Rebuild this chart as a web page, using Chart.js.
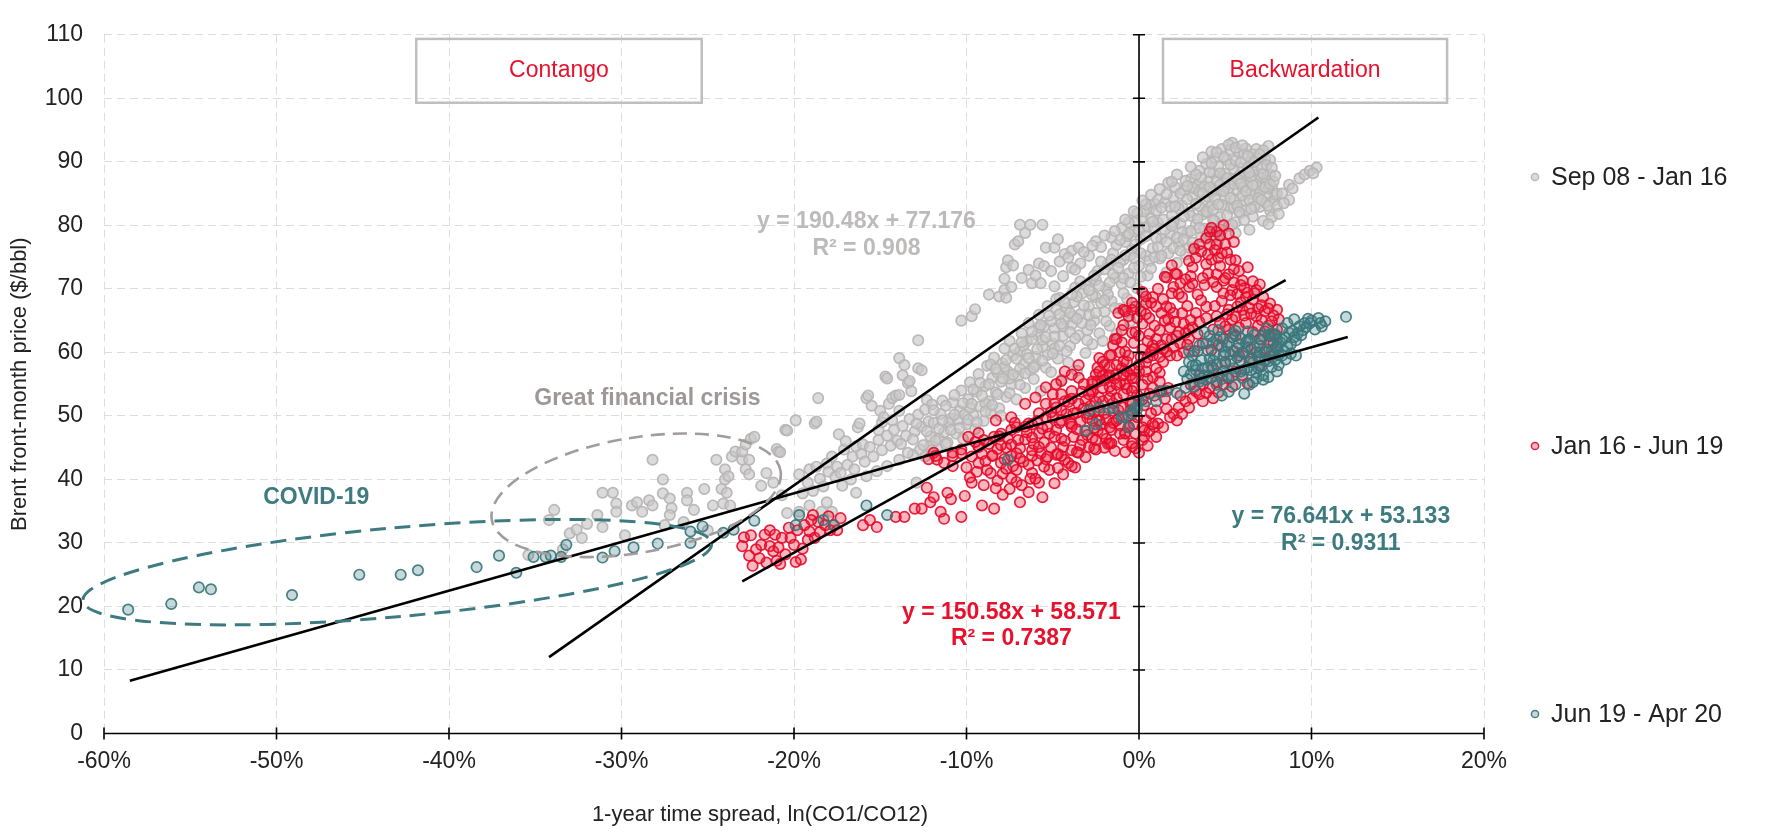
<!DOCTYPE html>
<html>
<head>
<meta charset="utf-8">
<title>Brent price vs 1-year time spread</title>
<script src="https://cdn.jsdelivr.net/npm/chart.js@4.4.1/dist/chart.umd.min.js"></script>
<style>
  html, body { margin: 0; padding: 0; background: #fff; }
  #wrap { width: 1769px; height: 834px; }
</style>
</head>
<body>
<div id="wrap"><canvas id="chart" width="1769" height="834"></canvas></div>
<script>
// ---- Data -------------------------------------------------------------
const seriesLabels = ['Sep 08 - Jan 16', 'Jan 16 - Jun 19', 'Jun 19 - Apr 20'];
const xTickValues = [-60, -50, -40, -30, -20, -10, 0, 10, 20];
const yTickValues = [0, 10, 20, 30, 40, 50, 60, 70, 80, 90, 100, 110];

// Sep 08 - Jan 16: [time spread %, price $/bbl]
const sepJanCrisis = [
  [-35.4,28.1],[-34.2,33.6],[-33.9,35.2],[-33.4,29.0],[-33.0,31.5],[-32.6,32.1],[-32.3,30.8],[-32.0,33.0],
  [-31.4,34.4],[-31.1,37.9],[-31.1,32.5],[-30.5,37.9],[-30.3,36.2],[-30.3,34.9],[-29.8,31.2],[-29.4,35.9],
  [-29.1,36.4],[-28.8,34.9],[-28.4,36.7],[-28.2,43.1],[-28.2,35.9],[-27.6,40.0],[-27.6,37.8],[-27.5,32.8],
  [-27.2,37.0],[-27.1,35.5],[-27.2,34.4],[-26.4,33.3],[-26.2,37.9],[-26.2,36.7],[-25.8,35.2],[-25.2,38.5],
  [-25.0,32.0],[-24.7,35.9],[-24.5,43.1],[-24.2,38.5],[-24.1,36.2],[-24.0,40.0],[-24.0,41.6],[-23.9,37.9],
  [-23.8,40.5],[-23.7,35.9],[-23.6,43.6],[-23.4,44.4],[-23.0,43.1],[-23.0,44.4],[-22.8,45.5],[-22.8,41.6],
  [-22.6,43.1],[-22.6,40.8],[-22.5,46.4],[-22.3,46.7],[-21.9,39.0],[-21.6,41.0],[-21.2,39.5],[-21.0,44.8]
];
const sepJanRecovery = [
  [-20.9,44.4],[-20.8,44.3],[-20.7,37.5],[-20.5,47.8],[-20.4,47.7],[-20.4,34.7],[-19.9,49.3],[-19.7,40.8],
  [-19.7,34.9],[-19.1,41.6],[-19.1,35.9],[-18.8,48.8],[-18.7,42.0],[-18.7,49.1],[-18.6,52.8],[-18.4,34.9],
  [-18.1,42.5],[-18.1,36.4],[-17.8,43.6],[-17.8,34.9],[-17.4,47.1],[-17.2,39.0],[-17.1,44.7],[-17.0,46.0],
  [-16.7,40.0],[-16.4,45.2],[-16.4,37.9],[-16.3,48.2],[-16.2,48.8],[-16.0,45.5],[-15.8,52.8],[-15.8,40.5],
  [-15.7,53.2],[-15.5,51.6],[-15.2,41.3],[-15.1,47.8],[-15.0,50.8],[-14.9,49.0],[-14.8,49.8],[-14.7,56.2],
  [-14.6,55.9],[-14.6,42.1],[-14.5,51.9],[-14.3,52.8],[-14.3,49.3],[-14.1,53.2],[-13.9,59.1],[-13.9,53.3],
  [-13.9,50.8],[-13.9,43.1],[-13.7,56.4],[-13.6,58.0],[-13.4,55.2],[-13.3,55.5],[-13.2,53.9],[-13.1,43.9],
  [-12.9,39.5],[-12.8,61.9],[-12.8,57.5],[-12.7,44.7],[-12.6,57.2],[-12.3,52.5],[-12.1,45.2],[-12.0,51.8],
  [-11.6,46.4],[-11.4,52.4],
  [-19.5,37.8],[-19.2,39.5],[-18.9,38.2],[-18.5,40.1],[-18.3,38.9],[-18.0,41.2],[-17.6,40.4],[-17.5,42.0],
  [-17.3,41.0],[-16.9,42.3],[-16.6,43.6],[-16.5,41.6],[-16.1,44.0],[-15.9,42.8],[-15.6,45.1],[-15.4,43.6],
  [-15.1,46.2],[-14.9,44.6],[-14.6,46.9],[-14.4,45.3],[-14.2,47.8],[-14.0,46.1],[-13.7,48.4],[-13.5,46.9],
  [-13.3,49.5],[-13.0,47.6],[-12.8,50.2],[-12.6,48.3],[-12.4,51.0],[-12.2,49.1]
];
const sepJanBand = [
  [-12.4,43.6],[-12.1,46.8],[-11.9,48.9],[-11.7,44.9],[-11.5,50.3],[-11.3,47.4],
  [-11.1,45.8],[-10.9,49.6],[-10.8,52.1],[-10.6,47.2],[-10.4,50.8],[-10.3,54.0],[-10.2,46.4],
  [-10.0,48.7],[-9.9,52.6],[-9.8,55.3],[-9.6,50.1],[-9.5,47.9],[-9.4,53.8],[-9.3,56.6],[-9.2,51.5],
  [-9.0,49.2],[-8.9,54.7],[-8.8,57.9],[-8.7,52.3],[-8.6,50.4],[-8.5,56.0],[-8.4,59.2],[-8.3,53.7],
  [-8.1,51.2],[-8.0,55.4],[-7.9,58.3],[-7.8,60.6],[-7.7,53.0],[-7.6,57.0],[-7.5,61.8],[-7.4,54.9],[-7.3,59.5],
  [-7.1,52.6],[-7.0,56.3],[-6.9,60.2],[-6.8,63.0],[-6.7,58.1],[-6.6,54.4],[-6.5,61.7],[-6.4,64.6],[-6.3,57.2],
  [-6.1,55.8],[-6.0,59.3],[-5.9,62.8],[-5.8,65.9],[-5.7,53.9],[-5.6,60.9],[-5.5,64.1],[-5.4,57.6],[-5.3,67.3],
  [-5.1,56.9],[-5.0,61.4],[-4.9,63.8],[-4.8,66.7],[-4.7,59.0],[-4.6,68.6],[-4.5,55.7],[-4.4,62.6],[-4.3,65.2],
  [-4.1,58.4],[-4.0,61.0],[-3.9,64.4],[-3.8,67.9],[-3.7,70.2],[-3.6,57.1],[-3.5,62.7],[-3.4,66.0],[-3.3,69.3],
  [-3.1,59.9],[-3.0,63.5],[-2.9,67.2],[-2.8,71.1],[-2.7,61.3],[-2.6,65.0],[-2.5,68.7],[-2.4,72.8],[-2.3,63.0],
  [-2.1,61.8],[-2.0,66.4],[-1.9,70.0],[-1.8,73.9],[-1.7,64.2],[-1.6,68.1],[-1.5,75.6],[-1.4,71.7],[-1.3,62.9],
  [-1.1,66.9],[-1.0,70.8],[-0.9,74.6],[-0.8,77.4],[-0.7,68.5],[-0.6,72.4],[-0.5,64.9],[-0.4,76.2],[-0.3,79.0],
  [-0.1,70.1],[0.0,73.6],[0.1,77.8],[0.2,81.1],[0.3,68.3],[0.4,75.2],[0.5,79.8],[0.6,82.6],
  [-11.9,50.9],[-11.6,48.0],[-11.2,51.6],[-11.0,49.0],[-10.7,53.3],[-10.5,49.4],[-10.1,50.2],[-9.8,51.3],
  [-9.6,54.2],[-9.2,55.2],[-8.9,52.0],[-8.6,58.1],[-8.2,56.8],[-8.0,50.0],[-7.8,57.7],[-7.5,55.9],
  [-7.2,60.6],[-6.9,57.4],[-6.7,61.0],[-6.5,59.7],[-6.2,62.1],[-6.0,58.0],[-5.8,63.9],[-5.6,62.0],
  [-5.3,59.6],[-5.1,64.9],[-4.9,60.6],[-4.6,66.0],[-4.4,64.1],[-4.2,67.0],[-4.0,63.2],[-3.8,65.6],
  [-3.6,68.8],[-3.3,64.6],[-3.1,70.6],[-2.9,65.9],[-2.7,69.0],[-2.5,71.4],[-2.2,67.8],[-2.0,73.1],
  [-1.8,69.1],[-1.5,72.3],[-1.3,76.9],[-1.1,74.2],[-0.9,71.7],[-0.7,78.3],[-0.5,75.3],[-0.3,73.3],
  [-0.2,80.5],[0.1,75.6],[0.3,79.6],[0.5,72.1],
  [-13.8,45.6],[-13.4,44.2],[-13.1,46.3],[-12.9,48.8],[-12.5,45.4],[-12.3,47.6],[-12.0,44.6],[-11.8,46.1],
  [-11.4,49.3],[-11.2,45.6],[-10.9,47.8],[-10.7,50.2],[-10.4,48.1],[-10.2,52.0],[-9.9,49.4],[-9.7,51.9],
  [-9.4,49.0],[-9.1,53.2],[-8.9,50.7],[-8.7,55.0],[-8.5,51.7],[-8.3,57.4],[-8.2,53.4],[-7.9,55.9],
  [-7.7,58.8],[-7.5,53.6],[-7.3,56.5],[-7.1,59.0],[-6.9,54.9],[-6.8,61.6],[-6.6,56.7],[-6.4,59.1],
  [-6.2,63.3],[-6.1,57.6],[-5.9,60.5],[-5.7,64.3],[-5.6,58.7],[-5.4,62.4],[-5.2,65.8],[-5.0,59.8],
  [-4.9,62.5],[-4.8,68.4],[-4.6,61.0],[-4.5,64.5],[-4.3,67.8],[-4.2,60.2],[-4.0,66.2],[-3.9,69.1],
  [-3.7,62.2],[-3.6,65.3],[-3.4,71.2],[-3.2,67.4],[-3.0,61.9],[-2.9,69.8],[-2.8,64.3],[-2.6,72.1],
  [-2.5,66.2],[-2.3,70.5],[-2.2,74.3],[-2.0,68.2],[-1.9,64.9],[-1.7,71.0],[-1.6,74.6],[-1.4,67.0],
  [-1.2,73.3],[-1.1,77.7],[-0.9,69.3],[-0.8,75.3],[-0.6,78.7],[-0.5,71.0],[-0.3,74.9],[-0.2,77.0],
  [0.0,79.2],[0.1,71.9],[0.3,82.2],[0.4,78.3],[0.6,74.4],[0.7,81.1],[0.9,83.4],[1.1,80.4]
];
const sepJanUpper = [
  [-10.3,65.0],[-9.7,65.7],[-9.5,66.8],[-8.7,69.1],[-8.1,68.8],[-7.8,69.8],[-7.7,68.6],[-7.8,71.6],
  [-7.7,73.4],[-7.6,74.5],[-7.3,73.7],[-7.2,77.0],[-7.0,77.5],[-6.9,80.1],[-6.6,78.8],[-6.3,80.1],
  [-6.2,70.9],[-5.8,74.0],[-5.7,70.9],[-5.6,80.1],[-5.4,76.5],[-4.9,76.5],[-4.9,70.4],[-4.7,77.8],
  [-4.4,72.0],[-4.3,75.5],[-3.9,73.3],[-3.9,76.0],[-3.5,76.5],[-3.4,74.0],[-2.9,75.2],[-2.5,77.5],
  [-2.2,76.6],[-1.6,78.1],[-1.0,79.6],[-0.6,80.5],[-0.1,81.9],[0.4,83.3],
  [-7.4,70.3],[-6.8,71.7],[-6.4,73.0],[-6.0,72.1],[-5.5,73.6],[-5.1,72.8],[-4.6,74.3],[-4.1,74.9],
  [-3.7,73.0],[-3.2,75.8],[-2.7,76.8],[-2.0,78.4],[-1.4,79.1],[-0.8,80.9],[-0.3,82.2],[0.2,83.9],
  [0.7,84.8],[1.2,85.7],[1.7,86.7]
];
const sepJanPeak = [
  [0.7,73.2],[0.8,76.4],[0.9,79.5],[1.0,82.3],[1.1,84.0],[1.2,74.8],[1.3,77.9],[1.4,80.9],[1.5,83.6],
  [1.6,72.6],[1.7,75.6],[1.8,78.7],[1.9,81.6],[2.0,84.4],[2.1,86.0],[2.2,74.1],[2.3,77.2],[2.4,80.3],[2.5,83.1],
  [2.6,85.5],[2.7,75.4],[2.8,78.8],[2.9,82.0],[3.0,87.3],[3.1,84.5],[3.2,76.6],[3.3,80.1],[3.4,86.4],[3.5,88.6],
  [3.6,78.2],[3.7,81.7],[3.8,84.0],[3.9,89.7],[4.0,86.9],[4.1,79.4],[4.2,83.1],[4.3,88.2],[4.4,90.6],[4.5,85.5],
  [4.6,77.7],[4.7,81.3],[4.8,92.0],[4.9,87.6],[5.0,84.2],[5.1,90.3],[5.2,79.9],[5.3,82.7],[5.4,93.0],[5.5,88.9],
  [5.6,78.8],[5.7,85.6],[5.8,91.4],[5.9,81.9],[6.0,89.0],[6.1,83.8],[6.2,92.1],[6.3,86.7],[6.4,79.3],[6.5,90.1],
  [6.6,81.4],[6.7,84.9],[6.8,92.0],[6.9,88.1],[7.0,82.9],[7.1,86.2],[7.2,80.7],[7.3,90.4],[7.4,84.7],[7.5,92.5],
  [7.6,88.0],[7.6,82.3],[7.7,86.0],[7.8,83.9],
  [1.0,78.0],[1.5,79.3],[2.0,80.5],[2.5,79.0],[3.0,81.5],[3.5,83.0],[4.0,82.0],[4.5,87.0],[5.0,86.0],
  [5.5,84.0],[6.0,86.0],[6.5,85.0],[7.0,87.5],[2.3,82.7],[3.2,85.8],[4.2,85.2],[5.6,80.5],[6.7,88.5],
  [3.8,79.5],[2.9,76.5],[1.8,82.9],[0.9,75.0],[4.4,80.7],[5.3,89.6],[6.1,87.7],
  [0.8,80.6],[1.1,76.6],[1.3,82.8],[1.6,77.4],[1.9,79.9],[2.1,83.0],[2.2,78.1],[2.4,85.0],[2.6,81.4],
  [2.7,87.0],[2.8,84.1],[3.0,79.1],[3.1,86.0],[3.3,83.4],[3.4,81.0],[3.5,85.3],[3.6,87.5],[3.7,90.7],
  [3.8,86.1],[4.0,84.5],[4.1,88.4],[4.2,91.6],[4.3,80.8],[4.4,84.2],[4.6,89.3],[4.7,86.4],[4.8,83.2],
  [4.9,90.8],[5.0,88.1],[5.1,81.6],[5.2,85.9],[5.3,91.9],[5.4,87.2],[5.5,82.8],[5.6,90.2],[5.7,83.1],
  [5.8,87.8],[5.9,89.9],[6.0,84.7],[6.1,91.3],[6.2,82.4],[6.3,89.1],[6.4,84.0],[6.5,87.6],[6.6,91.2],
  [6.7,83.0],[6.8,86.4],[6.9,90.6],[7.0,85.2],[7.1,89.0],[7.2,91.8],[7.3,83.6],[7.4,87.1],[7.5,85.8],
  [7.6,90.3],[7.7,81.3],[7.9,84.8],[3.9,77.9],[4.4,78.3],[2.0,76.4],
  [1.3,75.2],[1.6,84.9],[1.9,86.9],[2.2,88.0],[2.4,76.0],[2.6,77.8],[2.8,86.2],[3.0,89.2],[3.1,77.3],
  [3.3,88.0],[3.5,79.6],[3.7,85.0],[3.9,82.2],[4.1,86.0],[4.2,89.8],[4.3,82.5],[4.5,91.5],[4.6,83.3],
  [4.7,88.2],[4.8,79.3],[4.9,85.4],[5.1,87.4],[5.2,92.7],[5.3,84.3],[5.4,80.1],[5.5,86.5],[5.6,92.2],
  [5.7,87.3],[5.8,82.1],[5.9,86.6],[6.0,92.6],[6.1,80.8],[6.2,85.4],[6.3,90.9],[6.4,88.3],[6.5,82.6],
  [6.6,86.3],[6.7,90.0],[6.9,84.3],[7.0,91.2],[7.1,84.0],[7.2,88.1],[7.3,86.0],[7.4,89.5],[7.5,83.1],
  [7.6,86.5],[7.7,89.1],[7.8,86.9],[7.9,87.8],[8.0,83.0],
  [8.0,85.0],[8.3,85.0],[8.7,86.4],[8.7,84.0],[9.3,87.4],[9.6,88.0],[9.9,88.6],[10.3,89.1],[10.1,88.2],
  [7.5,80.2],[8.1,81.8],[8.4,83.5],[8.9,85.8]
];

// Jan 16 - Jun 19
const janJunLow = [
  [-23.0,29.5],[-22.6,28.0],[-22.4,26.4],[-22.2,29.0],[-21.9,29.7],[-21.7,31.3],[-21.4,32.0],[-21.4,29.5],
  [-21.2,28.7],[-21.1,31.3],[-21.0,27.2],[-20.8,26.7],[-20.7,30.8],[-20.2,30.8],[-20.0,29.7],[-19.8,32.0],
  [-19.6,27.4],[-19.4,32.8],[-19.2,30.5],[-19.1,31.8],[-18.9,34.4],[-18.8,30.8],[-18.6,33.3],[-18.2,32.8],
  [-17.9,32.0],[-17.7,32.8],[-17.5,32.0],
  [-22.9,30.9],[-22.5,31.2],[-22.0,27.6],[-21.6,26.9],[-20.9,29.3],[-20.5,28.2],[-20.3,32.4],[-19.9,27.0],
  [-19.5,29.1],[-19.0,33.6],[-18.5,31.7],[-18.0,34.2],[-17.3,33.9],
  [-16.0,32.8],[-15.6,33.6],[-15.2,32.5],[-14.1,34.1],[-13.6,34.1],[-13.0,35.4],[-12.6,35.4],[-12.3,38.7],
  [-12.1,36.4],[-11.9,37.2],[-11.5,34.9],[-11.3,33.8],[-11.1,37.9],[-10.9,36.9],[-10.3,34.1],[-10.1,37.4],
  [-9.7,39.5],[-9.1,35.9],[-8.4,35.4],[-11.9,44.2],[-11.7,43.1],[-11.3,42.6],[-10.8,44.2],[-10.8,42.1]
];
const janJunMid = [
  [-10.3,44.1],[-9.9,46.7],[-9.3,45.1],[-9.3,42.6],[-9.0,46.2],[-8.8,41.5],[-8.5,43.8],[-8.0,47.2],
  [-8.0,42.6],[-7.7,45.0],[-7.5,38.5],[-7.4,40.2],[-7.1,48.2],[-7.1,44.1],[-7.1,41.5],[-6.8,39.1],
  [-6.6,46.3],[-6.2,48.7],[-6.2,44.6],[-6.2,41.0],[-5.9,43.0],[-5.8,39.5],[-5.5,45.8],[-5.2,47.2],
  [-5.2,41.5],[-5.0,49.7],[-4.8,51.3],[-4.8,43.9],[-4.5,46.4],[-4.3,52.3],[-4.3,43.1],[-4.0,48.9],
  [-3.9,48.7],[-3.9,44.6],[-3.6,50.5],[-3.3,53.8],[-3.3,46.2],[-3.0,49.7],[-2.8,51.6],[-2.4,55.4],
  [-2.4,47.7],[-2.1,52.3],[-1.8,45.6],[-1.4,55.9],[-1.2,49.6],[-0.8,47.2],[-0.5,56.4],[-0.5,52.0],
  [-0.3,48.7],[0.3,47.7],[0.3,46.7],
  [-8.2,39.8],[-7.9,37.6],[-6.9,36.4],[-6.4,38.0],[-5.6,37.2],[-4.9,39.4],[-4.4,40.8],[-3.7,41.9],
  [-3.1,43.5],[-2.6,44.9],
  [-5.4,54.5],[-4.5,55.5],[-3.5,56.0],[-2.5,56.5],[-2.0,58.0],[-1.6,59.6],[-0.8,60.1],[-2.3,59.1],
  [-3.5,58.0],[-4.3,57.0],[-4.8,55.0],[-3.9,53.9],[-2.7,55.0],[-1.8,56.0],[-1.0,57.5],[-3.1,52.4],
  [-2.3,52.9],[-1.6,53.9],[-0.8,55.0],[-0.2,56.0],[0.0,57.0],[-9.3,47.3],[-8.3,49.3],[-7.4,49.8],
  [-6.6,51.9],[-6.0,52.9],[-5.4,51.9],[-4.5,53.4],[-5.0,53.4],[-7.4,47.8],[-6.4,48.8],[-5.4,49.8],
  [-4.5,50.9],[-3.5,51.9],[-8.1,46.8],[-7.0,46.2],[-5.8,47.3],[-4.8,47.8],[-3.9,48.3],[-2.7,49.3],
  [-2.0,50.4],[-1.2,50.9],[-0.4,51.9],[-1.6,47.8],[-0.6,48.3],[0.4,49.3],[0.7,50.4],[0.9,48.3],
  [-1.6,45.7],[-2.5,44.7],[-3.5,44.2],[-4.5,43.7],[-5.4,43.2],[-6.2,43.7],[-7.4,43.7],[-8.5,43.7],
  [-9.3,45.2],[-10.3,44.7],[-10.8,43.7],[-11.8,43.7],[-12.2,43.2],[-0.8,47.3],[-0.4,45.2],[0.0,44.2],
  [1.1,48.8],[-5.8,50.4],[-3.9,56.5],
  [-10.0,41.9],[-9.7,43.6],[-9.5,45.9],[-9.1,44.0],[-8.9,42.9],[-8.7,45.6],[-8.4,46.7],[-8.2,44.8],
  [-7.9,40.9],[-7.8,43.2],[-7.6,46.4],[-7.3,42.1],[-7.2,48.9],[-6.9,44.9],[-6.7,42.8],[-6.5,47.4],
  [-6.3,40.1],[-6.1,45.6],[-5.9,49.2],[-5.7,44.1],[-5.5,42.0],[-5.3,48.3],[-5.1,45.0],[-4.9,51.9],
  [-4.7,41.8],[-4.6,48.9],[-4.4,45.1],[-4.2,50.3],[-4.1,42.6],[-3.9,52.7],[-3.8,46.7],[-3.6,44.3],
  [-3.4,49.1],[-3.2,55.0],[-3.1,47.6],[-2.9,45.1],[-2.7,53.8],[-2.6,50.6],[-2.4,57.6],[-2.2,48.6],
  [-2.0,55.6],[-1.9,46.4],[-1.7,54.6],[-1.5,52.0],[-1.3,56.6],[-1.1,48.5],[-0.9,58.6],[-0.7,54.3],
  [-0.5,50.9],[-0.3,57.2],[-0.1,53.3],[0.1,59.3],[0.3,51.7],[0.5,55.8],[0.6,47.6],[0.9,53.2],
  [1.2,56.8],[1.5,52.7],[1.7,54.4],
  [-9.8,40.3],[-9.4,41.2],[-9.0,39.1],[-8.6,41.0],[-8.3,38.6],[-8.0,45.4],[-7.7,41.7],[-7.4,45.5],
  [-7.1,39.6],[-6.9,43.3],[-6.6,48.3],[-6.4,42.3],[-6.2,46.6],[-6.0,40.1],[-5.8,45.1],[-5.6,48.0],
  [-5.3,43.6],[-5.1,50.6],[-4.9,46.7],[-4.7,44.0],[-4.5,49.3],[-4.3,46.1],[-4.1,52.2],[-3.9,42.1],
  [-3.8,50.4],[-3.6,47.9],[-3.4,45.4],[-3.2,51.2],[-3.0,47.0],[-2.8,54.1],[-2.7,46.5],[-2.5,52.2],
  [-2.3,50.8],[-2.1,56.3],[-1.9,49.4],[-1.7,57.7],[-1.5,48.9],[-1.3,52.8],[-1.1,55.2],[-0.9,51.3],
  [-0.7,57.0],[-0.6,50.0],[-0.3,54.4],[-0.1,49.8],[0.2,52.6],[0.4,58.4],[0.6,53.5],[0.8,56.1],
  [1.0,50.9],[1.3,53.8]
];
const janJunHigh = [
  [3.9,78.0],[4.5,79.0],[5.2,78.7],[4.1,77.0],[3.5,77.0],[4.1,79.0],[4.9,80.0],[4.5,77.0],
  [2.9,74.4],[3.3,74.9],[3.1,73.4],[3.9,73.9],[4.5,72.3],[4.9,71.3],[5.2,72.3],[5.8,72.8],[6.0,71.3],
  [4.5,70.3],[4.9,69.3],[5.4,69.8],[6.2,68.7],[6.8,69.8],[7.2,68.7],[7.6,67.7],[8.0,66.7],[8.1,65.2],
  [8.0,63.6],[7.6,62.6],[7.0,62.1],[6.8,65.7],[6.0,66.7],[5.2,66.7],[4.5,65.7],[3.9,67.2],[5.4,65.2],
  [5.2,63.6],[5.6,62.6],[4.9,62.1],[4.3,63.6],
  [1.6,71.8],[2.2,72.3],[2.0,70.3],[2.5,68.7],[2.9,70.3],[0.8,68.7],[1.0,67.2],[0.4,67.7],[1.6,67.2],
  [2.0,66.2],[-0.9,66.7],[-0.4,66.7],[-0.6,65.7],[-0.2,67.2],[2.5,66.2],[3.1,70.8],[-1.2,66.2],[-0.8,66.5],
  [-0.4,67.8],[0.7,67.8],[0.4,68.8],[1.3,66.2],[1.7,65.2],[2.1,72.4],[1.5,71.9],[1.9,69.3],
  [-0.4,63.1],[0.0,62.6],[-1.3,62.1],[-1.5,61.1],[1.0,62.1],[1.6,62.1],[2.2,62.6],[2.7,63.1],[2.9,62.1],
  [0.8,61.1],[1.4,60.5],[1.8,59.5],[0.8,59.5],[0.2,60.5],[-0.6,59.5],[-1.1,60.0],[-1.7,59.5],[-2.1,58.5],
  [-1.3,58.0],[-0.7,58.5],[0.0,58.0],[-2.3,57.0],[-1.7,56.4],[-0.9,56.4],[-0.4,55.9],[0.4,57.0],[1.0,57.5],
  [1.4,58.5],[-2.7,55.4],[-2.9,53.4],[-2.1,54.4],[-1.3,54.9],[-1.7,52.8],[-0.9,53.4],[-0.4,53.9],[0.2,54.9],
  [0.8,54.4],[1.2,55.4],[-1.4,62.1],[-1.0,61.6],[-0.2,63.2],[0.7,60.1],[1.3,61.1],[1.9,62.1],[2.3,63.2],
  [3.3,53.9],[3.7,54.9],[4.1,54.4],[4.5,55.4],[4.9,54.9],[5.2,55.9],[5.6,57.0],[6.0,56.4],[6.4,58.5],
  [6.8,60.0],[3.5,56.4],[4.3,57.5],[5.0,58.5],[5.8,59.5],[4.3,52.8],[3.7,52.3],[2.9,63.6],[7.4,60.5],
  [7.8,61.5],[6.3,60.8],[5.5,60.2],
  [2.0,50.3],[2.3,51.3],[2.7,52.3],[3.1,52.8],[2.2,49.3],[2.5,50.3],[2.9,51.3],[1.8,49.8],[3.5,53.4],
  [-2.9,50.3],[-2.3,49.3],[-1.7,48.2],[-1.1,47.2],[-0.9,46.2],[-0.4,45.7],[-0.2,47.2],[0.2,46.2],
  [-0.6,48.2],[-1.3,49.3],[-2.1,47.2],[-2.5,46.2],[-1.7,45.7],[0.8,48.7],[0.2,48.2],[-0.4,50.3],[-1.5,50.8],
  [0.2,64.5],[0.6,62.9],[0.9,64.2],[1.2,63.5],[1.5,65.0],[1.8,63.9],[2.1,64.8],[2.4,61.4],[2.6,64.5],
  [3.0,65.1],[3.3,66.2],[3.6,68.2],[3.8,70.6],[4.0,72.4],[4.2,74.6],[4.4,76.1],[4.7,73.6],[4.8,75.6],
  [5.0,77.0],[5.3,74.6],[5.5,71.0],[5.7,69.2],[5.9,67.9],[6.1,70.1],[6.4,67.0],[6.6,68.3],[6.9,66.9],
  [7.1,65.1],[7.3,66.5],[7.5,64.2],[7.8,65.8],[7.9,62.8],[6.6,63.2],[6.2,64.6],[5.8,63.9],[5.0,64.1],
  [4.6,61.2],[4.2,60.4],[3.7,61.4],[3.4,62.9],[3.2,60.2],[2.6,60.0],[2.0,60.8],[1.2,59.3],[0.5,61.8],
  [-0.9,64.3],[-0.1,65.4],[0.4,66.0],[2.8,67.3],[3.4,69.1],[3.0,72.0],[2.4,70.9],[1.1,70.0],[0.2,69.5],
  [1.9,73.7],[3.6,75.9],[3.2,76.3],[4.2,79.6],[4.7,78.4],[5.5,77.4],[5.6,74.5],[6.3,73.4],[6.6,71.2],
  [7.0,70.7],
  [3.7,71.7],[4.0,75.4],[4.3,71.1],[4.6,74.9],[4.8,68.1],[5.0,71.7],[5.1,75.7],[5.3,69.0],[5.5,73.1],
  [5.7,67.2],[5.9,70.6],[6.1,65.8],[6.3,69.4],[6.5,66.1],[6.7,69.3],[6.9,64.2],[7.1,67.4],[7.3,63.3],
  [7.5,66.9],[7.7,64.9],[3.5,64.8],[3.9,65.4],[4.4,67.3],[4.7,64.6],[5.1,66.0],[5.6,65.6],[0.1,66.5],
  [0.6,65.4],[1.4,68.4],[1.8,67.0],[2.3,69.2],[2.7,71.5],[0.9,60.5],[1.6,60.1],[2.2,59.5],[2.8,61.2],
  [3.1,63.9],[0.5,59.2],[-0.3,61.5],[-1.0,63.5],
  [-2.6,48.1],[-2.0,45.0],[-1.4,44.5],[-0.8,44.3],[-0.2,44.9],[0.5,45.3],[1.0,46.7],[1.4,48.2],[1.6,51.1],
  [2.4,53.2],[3.0,54.9],[3.9,53.6],[4.6,53.7],[5.4,54.6],[6.3,55.1],[7.0,57.9],[7.6,59.4],[8.0,60.6]
];

// Jun 19 - Apr 20
const junAprSell = [
  [-58.6,19.5],[-56.1,20.4],[-54.5,23.0],[-53.8,22.7],[-49.1,21.8],[-45.2,25.0],[-42.8,25.0],[-41.8,25.7],
  [-38.4,26.2],[-37.1,28.0],[-36.1,25.3],[-35.1,27.8],[-34.4,27.8],[-34.1,28.0],[-33.5,27.8],[-33.2,29.7],
  [-31.1,27.7],[-30.4,28.7],[-29.3,29.3],[-27.9,29.9],[-26.0,30.0],[-26.0,31.8],[-25.3,32.6],[-24.1,31.6],
  [-23.5,32.1],[-22.3,33.5],[-19.9,32.8],[-19.7,34.4],[-18.3,33.6],[-17.7,32.8],[-15.8,35.9],[-14.6,34.4],
  [-7.6,43.1],[-3.1,47.7],[-2.5,48.7],[-1.5,51.3],[-1.0,49.8],[-0.4,50.8],[-0.2,51.3],[0.0,52.3]
];
const junAprCluster = [
  [-2.9,50.8],[-2.3,51.3],[-1.7,51.1],[-0.9,49.8],[-0.6,48.2],[-0.1,51.1],[0.4,52.3],[1.0,52.3],[1.6,53.9],
  [2.2,53.6],[2.7,54.4],[1.2,53.9],[-0.4,50.3],
  [2.9,58.5],[3.1,59.5],[3.5,61.1],[4.1,62.6],[4.5,62.1],[5.2,61.6],[6.2,61.6],[6.4,62.1],[7.2,62.6],
  [8.0,62.1],[8.7,63.1],[9.3,64.1],[9.9,64.6],[10.5,64.6],[10.6,64.1],[12.0,65.6],[3.5,55.4],[4.5,54.9],
  [5.6,54.9],[6.8,55.9],[7.2,56.4],[8.0,57.0],[9.1,59.5],[8.1,58.0],[6.8,56.9],[7.2,55.7],
  [3.3,57.2],[3.6,58.8],[3.8,56.4],[4.0,60.3],[4.2,57.9],[4.4,59.6],[4.6,56.6],[4.8,60.9],[5.0,58.2],
  [5.1,56.1],[5.3,59.7],[5.5,57.5],[5.7,60.6],[5.9,58.7],[6.0,56.0],[6.1,59.8],[6.3,57.6],[6.5,60.5],
  [6.6,58.4],[6.9,59.3],[7.0,61.0],[7.1,57.8],[7.3,60.0],[7.5,58.6],[7.6,61.5],[7.8,59.8],[8.0,60.6],
  [8.2,61.6],[8.4,60.2],[8.5,62.3],[8.8,61.3],[9.0,62.4],[9.2,63.0],[9.5,63.5],[3.0,56.6],[3.9,55.7],
  [4.9,57.1],[5.8,61.3],[6.7,62.8],[7.7,63.0],[3.2,54.6],[4.3,58.7],[5.4,62.4],[2.8,55.8],[6.4,54.9],
  [8.3,63.8],[9.7,64.0],[10.2,63.6],[10.0,65.0],
  [6.6,55.3],[7.5,56.1],[8.5,58.9],[5.2,53.8],[6.1,53.5],[4.8,53.2],[7.9,58.8],
  [3.1,57.9],[3.4,60.2],[3.7,57.5],[3.9,61.4],[4.1,59.0],[4.3,61.6],[4.5,58.1],[4.7,62.4],[4.9,59.5],
  [5.1,61.1],[5.3,58.6],[5.5,62.9],[5.7,59.2],[5.9,62.2],[6.1,57.3],[6.3,61.9],[6.5,58.9],[6.7,60.7],
  [6.9,57.6],[7.1,62.0],[7.3,58.7],[7.5,62.7],[7.7,60.4],[7.9,62.6],[8.1,59.6],[8.3,62.0],[8.6,60.9],
  [8.9,63.4],[9.1,61.9],[9.4,62.7],[9.6,64.6],[3.6,55.9],[4.2,56.0],[4.8,55.8],[5.4,56.3],[5.9,57.0],
  [6.5,57.2],[7.0,58.9],[7.7,57.7],[8.3,59.5],[8.8,59.8],[2.6,57.0],[2.9,60.2],[3.8,63.2],[4.6,63.5],
  [5.6,63.4],[6.3,63.3],[7.4,63.8],[8.6,64.6],[9.0,65.2],[9.8,65.3],[10.4,65.4],[10.8,64.9],[3.3,58.0],
  [4.0,57.6],[5.0,60.0],[6.0,60.0],[7.0,60.0],[8.0,61.0]
];

// Linear fits: y = slope * spread + intercept (spread as a fraction)
const trendSlopes = [190.48, 150.58, 76.641];
const trendIntercepts = [77.176, 58.571, 53.133];
const trendFrom = [-34.2, -23.0, -58.5];   // % spread
const trendTo = [10.4, 8.5, 12.1];

// ---- Styling ----------------------------------------------------------
const FONT = '"Liberation Sans", Arial, Helvetica, sans-serif';
const TEXT = '#222222';
const GREY = { fill: 'rgba(202,199,199,0.65)', line: 'rgba(184,181,181,0.95)' };
const RED  = { fill: 'rgba(236,30,60,0.32)',  line: 'rgba(228,10,42,0.9)' };
const TEAL = { fill: 'rgba(66,125,130,0.3)', line: 'rgba(58,118,124,0.92)' };
const palette = [GREY, RED, TEAL];

const ellipses = [
  { cx: -43.0, cy: 25.4, rx: 18.3, ry: 7.0, rot: -5.2, color: '#3e7b80', dash: [16, 9], width: 3 },
  { cx: -29.15, cy: 37.5, rx: 8.49, ry: 9.06, rot: -9.6, color: '#a29c9c', dash: [14, 8], width: 2.6 }
];
const boxes = [
  { x0: -41.9, x1: -25.35, y0: 99.3, y1: 109.35, text: 'Contango' },
  { x0: 1.39, x1: 17.86, y0: 99.3, y1: 109.35, text: 'Backwardation' }
];
const notes = [
  { text: 'y = 190.48x + 77.176', x: -15.8, y: 80.6, color: '#bdbaba' },
  { text: 'R² = 0.908', x: -15.8, y: 76.3, color: '#bdbaba' },
  { text: 'Great financial crisis', x: -28.5, y: 52.7, color: '#9e9797' },
  { text: 'COVID-19', x: -47.7, y: 37.2, color: '#3e7b80' },
  { text: 'y = 76.641x + 53.133', x: 11.7, y: 34.1, color: '#3e7b80' },
  { text: 'R² = 0.9311', x: 11.7, y: 29.9, color: '#3e7b80' },
  { text: 'y = 150.58x + 58.571', x: -7.4, y: 19.0, color: '#e8112d' },
  { text: 'R² = 0.7387', x: -7.4, y: 15.0, color: '#e8112d' }
];

// ---- Build datasets ---------------------------------------------------
const toXY = arr => arr.map(p => ({ x: p[0], y: p[1] }));
const scatterSets = [
  sepJanCrisis.concat(sepJanRecovery, sepJanBand, sepJanUpper, sepJanPeak),
  janJunLow.concat(janJunMid, janJunHigh),
  junAprSell.concat(junAprCluster)
];

const datasets = scatterSets.map((pts, i) => ({
  type: 'scatter',
  label: seriesLabels[i],
  data: toXY(pts),
  backgroundColor: palette[i].fill,
  borderColor: palette[i].line,
  pointRadius: 5.2,
  pointBorderWidth: 1.7,
  pointHoverRadius: 5.2,
  order: 3 - i
}));

trendSlopes.forEach((m, i) => {
  const b = trendIntercepts[i];
  datasets.push({
    type: 'line',
    label: 'fit ' + seriesLabels[i],
    data: [
      { x: trendFrom[i], y: m * trendFrom[i] / 100 + b },
      { x: trendTo[i], y: m * trendTo[i] / 100 + b }
    ],
    borderColor: '#000',
    borderWidth: 2.6,
    pointRadius: 0,
    fill: false,
    tension: 0,
    order: 0
  });
});

// ---- Overlay: axes through zero, ellipses, boxes, notes, legend, titles
const overlay = {
  id: 'overlay',
  afterDatasetsDraw(chart) {
    const { ctx, chartArea: a, scales: { x, y } } = chart;
    const px = v => x.getPixelForValue(v);
    const py = v => y.getPixelForValue(v);
    ctx.save();

    // highlighted episodes
    ellipses.forEach(e => {
      ctx.beginPath();
      ctx.setLineDash(e.dash);
      ctx.lineWidth = e.width;
      ctx.strokeStyle = e.color;
      ctx.ellipse(px(e.cx), py(e.cy), e.rx * (px(1) - px(0)), e.ry * (py(0) - py(1)),
                  e.rot * Math.PI / 180, 0, Math.PI * 2);
      ctx.stroke();
    });
    ctx.setLineDash([]);

    // axis lines crossing at zero, with tick marks
    const x0 = px(0), y0 = py(0);
    ctx.strokeStyle = '#000';
    ctx.lineWidth = 1.6;
    ctx.beginPath();
    ctx.moveTo(a.left, y0); ctx.lineTo(a.right, y0);
    ctx.moveTo(x0, a.top); ctx.lineTo(x0, a.bottom);
    xTickValues.forEach(v => { ctx.moveTo(px(v), y0 - 6); ctx.lineTo(px(v), y0 + 6); });
    yTickValues.forEach(v => { ctx.moveTo(x0 - 6, py(v)); ctx.lineTo(x0 + 6, py(v)); });
    ctx.stroke();

    // regime boxes
    ctx.textAlign = 'center';
    ctx.textBaseline = 'middle';
    boxes.forEach(bx => {
      const l = px(bx.x0), r = px(bx.x1), t = py(bx.y1), btm = py(bx.y0);
      ctx.strokeStyle = '#bfbfbf';
      ctx.lineWidth = 2.5;
      ctx.strokeRect(l, t, r - l, btm - t);
      ctx.fillStyle = '#e8112d';
      ctx.font = '23px ' + FONT;
      ctx.fillText(bx.text, (l + r) / 2, (t + btm) / 2);
    });

    // fit equations and episode labels
    ctx.font = 'bold 23px ' + FONT;
    notes.forEach(n => {
      ctx.fillStyle = n.color;
      ctx.fillText(n.text, px(n.x), py(n.y));
    });
    ctx.restore();
  },
  afterDraw(chart) {
    const { ctx, chartArea: a } = chart;
    ctx.save();
    // axis titles
    ctx.fillStyle = TEXT;
    ctx.font = '22px ' + FONT;
    ctx.textAlign = 'center';
    ctx.textBaseline = 'middle';
    ctx.fillText('1-year time spread, ln(CO1/CO12)', 760, 815);
    ctx.translate(20, (a.top + a.bottom) / 2);
    ctx.rotate(-Math.PI / 2);
    ctx.fillText('Brent front-month price ($/bbl)', 0, 0);
    ctx.restore();

    // legend
    ctx.save();
    const rows = [177, 446, 714];
    ctx.font = '25px ' + FONT;
    ctx.textAlign = 'left';
    ctx.textBaseline = 'middle';
    rows.forEach((ry, i) => {
      const ds = chart.data.datasets[i];
      ctx.beginPath();
      ctx.arc(1535, ry, 3.6, 0, Math.PI * 2);
      ctx.fillStyle = ds.backgroundColor;
      ctx.fill();
      ctx.lineWidth = 1.5;
      ctx.strokeStyle = ds.borderColor;
      ctx.stroke();
      ctx.fillStyle = TEXT;
      ctx.fillText(ds.label, 1551, ry + 1);
    });
    ctx.restore();
  }
};

// ---- Chart ------------------------------------------------------------
new Chart(document.getElementById('chart'), {
  type: 'scatter',
  data: { datasets },
  options: {
    responsive: false,
    animation: false,
    devicePixelRatio: 1,
    layout: { padding: { top: 19, right: 285, left: 0, bottom: 0 } },
    plugins: { legend: { display: false }, tooltip: { enabled: false } },
    scales: {
      x: {
        type: 'linear',
        min: -60, max: 20,
        afterBuildTicks: s => { s.ticks = xTickValues.map(v => ({ value: v })); },
        afterFit: s => { s.height = 100.5; },
        grid: { color: '#dddddd', lineWidth: 1, drawTicks: false },
        border: { display: false, dash: [8, 5] },
        ticks: {
          padding: 14,
          color: TEXT,
          font: { family: FONT, size: 23 },
          maxRotation: 0,
          callback: v => v + '%'
        }
      },
      y: {
        type: 'linear',
        min: 0, max: 110,
        afterBuildTicks: s => { s.ticks = yTickValues.map(v => ({ value: v })); },
        afterFit: s => { s.width = 104; },
        grid: { color: '#dddddd', lineWidth: 1, drawTicks: false },
        border: { display: false, dash: [8, 5] },
        ticks: {
          padding: 21,
          color: TEXT,
          font: { family: FONT, size: 23 }
        }
      }
    }
  },
  plugins: [overlay]
});
</script>
</body>
</html>
